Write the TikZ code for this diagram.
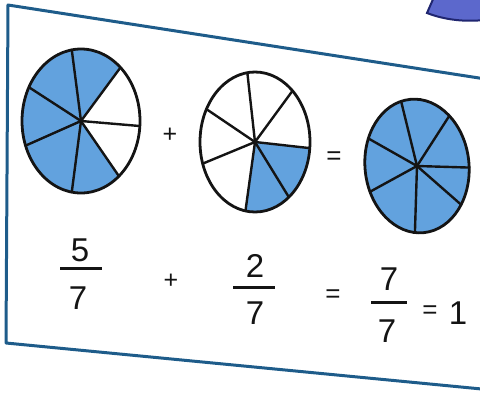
\documentclass[tikz,border=0pt]{standalone}
\usepackage{fontspec}
\setmainfont{Liberation Sans}
\definecolor{pieblue}{RGB}{98,162,222}
\definecolor{frameblue}{RGB}{30,92,138}
\definecolor{wedgefill}{RGB}{92,104,204}
\definecolor{wedgeline}{RGB}{32,38,112}

\begin{document}
\begin{tikzpicture}[x=1pt, y=-1pt,
  ink/.style={text=black!92, inner sep=0pt},
  big/.style={ink, font=\fontsize{33}{33}\selectfont},
  op/.style={ink, font=\fontsize{25}{25}\selectfont},
  eq/.style={ink, font=\fontsize{26}{26}\selectfont},
  bar/.style={draw=black!92, line width=3pt},
  frame/.style={draw=frameblue, line width=3pt, line join=round},
  pie/.style={fill=pieblue},
  rim/.style={draw=black!92, line width=2.8pt},
  spoke/.style={draw=black!92, line width=2.4pt, line cap=round}
]
\useasboundingbox (0,0) rectangle (480,392);

% frame of the exercise box
\coordinate (tl) at (8,5);
\coordinate (bl) at (6,343);
\coordinate (tr) at (492,80);
\coordinate (br) at (492,390);
\draw[frame] (tr) -- (tl) -- (bl) -- (br);

% piece of the next picture
\filldraw[fill=wedgefill, draw=wedgeline, line width=2pt]
  (434,-3) -- (427,13) .. controls (445,20) and (465,22) .. (484,20) -- (484,-3) -- cycle;

% 5/7
\begin{scope}[shift={(81,121)}, xscale=59, yscale=-72]
  \fill[pie] (0,0) -- (48:1) arc[start angle=48, end angle=310, radius=1] -- cycle;
  \foreach \a in {99,48,-4,-50,-99,200,152}
    \draw[spoke] (0,0) -- (\a:1);
  \draw[rim] (0,0) circle (1);
\end{scope}

% 2/7
\begin{scope}[shift={(255,142)}, xscale=55, yscale=-70]
  \fill[pie] (0,0) -- (-100:1) arc[start angle=-100, end angle=-5, radius=1] -- cycle;
  \foreach \a in {98,47,-5,-52,-100,198,152}
    \draw[spoke] (0,0) -- (\a:1);
  \draw[rim] (0,0) circle (1);
\end{scope}

% 7/7
\begin{scope}[shift={(417,166)}, rotate=6, xscale=52, yscale=-67]
  \fill[pie] (0,0) circle (1);
  \foreach \a in {100,44,-6,-40,-100,198,151}
    \draw[spoke] (0,0) -- (\a:1);
  \draw[rim] (0,0) circle (1);
\end{scope}

\node[op] (plusa) at (170,135) {+};
\node[eq] (eqa) at (334,158) {=};

% fractions
\node[big] (numa) at (80,250) {5};
\draw[bar] (60,268) -- (102,268);
\node[big] (dena) at (78,298) {7};

\node[op] (plusb) at (171,281) {+};

\node[big] (numb) at (255,266) {2};
\draw[bar] (233,287) -- (275,287);
\node[big] (denb) at (255,313) {7};

\node[eq] (eqb) at (333,296) {=};

\node[big] (numc) at (389,279) {7};
\draw[bar] (371,302) -- (407,302);
\node[big] (denc) at (387,331) {7};

\node[eq] (eqc) at (430,312) {=};
\node[big] (one) at (458,313) {1};
\end{tikzpicture}
\end{document}
